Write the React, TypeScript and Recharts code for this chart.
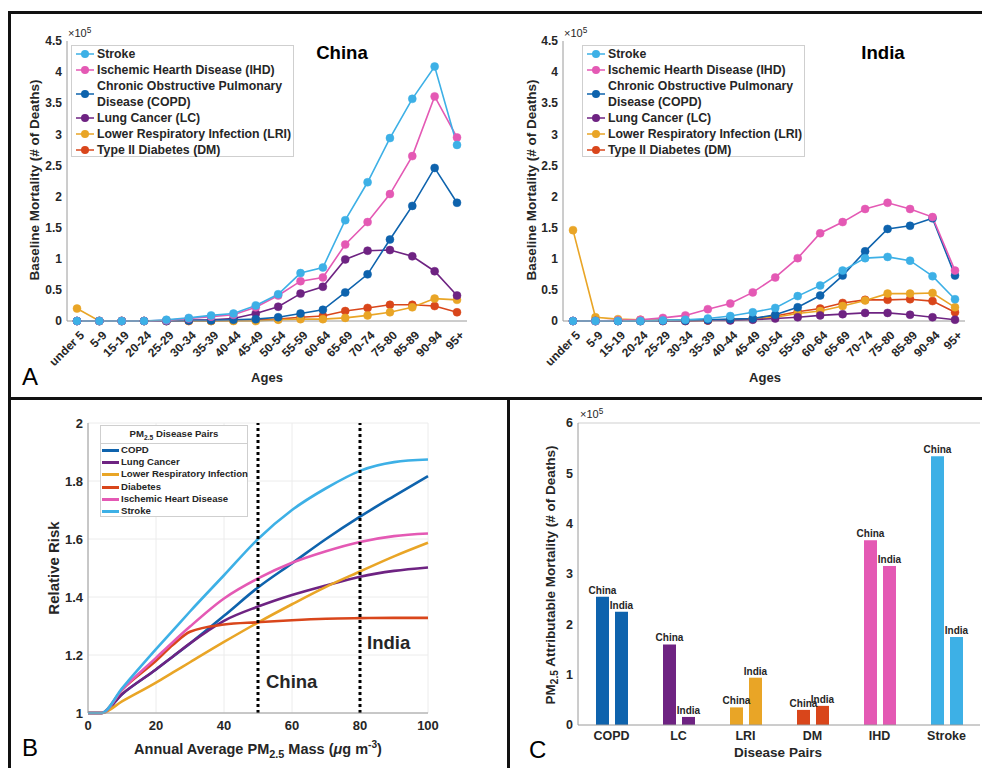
import React from "react";
import {
  LineChart,
  Line,
  XAxis,
  YAxis,
  CartesianGrid,
  ReferenceLine,
  BarChart,
  Bar,
  Cell,
} from "recharts";

const FONT = "'Liberation Sans', Arial, Helvetica, sans-serif";
const INK = "#262626";
const AXIS = "#9a9a9a";

// disease colours
const colStroke = "#3DB0E6";
const colIHD = "#E459B4";
const colCOPD = "#0E63AD";
const colLC = "#6E2382";
const colLRI = "#E9A526";
const colDM = "#D9461B";

// ---- panel A: baseline mortality by age (x10^5 deaths)
const ageGroups = [
  "under 5", "5-9", "15-19", "20-24", "25-29", "30-34", "35-39", "40-44", "45-49",
  "50-54", "55-59", "60-64", "65-69", "70-74", "75-80", "85-89", "90-94", "95+",
];
const mortalityTicks = [0, 0.5, 1, 1.5, 2, 2.5, 3, 3.5, 4, 4.5];

const chinaStroke = [0, 0, 0, 0, 0.02, 0.05, 0.09, 0.12, 0.25, 0.43, 0.77, 0.86, 1.62, 2.23, 2.94, 3.57, 4.09, 2.83];
const chinaIHD = [0, 0, 0, 0, 0.01, 0.04, 0.07, 0.1, 0.22, 0.41, 0.64, 0.7, 1.23, 1.59, 2.04, 2.65, 3.61, 2.95];
const chinaCOPD = [0, 0, 0, 0, 0, 0.01, 0.01, 0.02, 0.03, 0.06, 0.12, 0.18, 0.46, 0.75, 1.31, 1.85, 2.46, 1.9];
const chinaLC = [0, 0, 0, 0, 0, 0.01, 0.02, 0.04, 0.12, 0.23, 0.44, 0.55, 0.99, 1.13, 1.14, 1.04, 0.8, 0.41];
const chinaLRI = [0.2, 0, 0, 0, 0, 0, 0, 0, 0, 0.02, 0.03, 0.03, 0.05, 0.09, 0.14, 0.22, 0.36, 0.34];
const chinaDM = [0, 0, 0, 0, 0, 0, 0, 0.01, 0.02, 0.03, 0.06, 0.08, 0.16, 0.21, 0.26, 0.26, 0.24, 0.14];

const indiaStroke = [0, 0, 0, 0, 0.01, 0.02, 0.04, 0.08, 0.14, 0.21, 0.4, 0.57, 0.81, 1.01, 1.03, 0.97, 0.72, 0.35];
const indiaIHD = [0, 0, 0.01, 0.02, 0.05, 0.09, 0.19, 0.28, 0.46, 0.7, 1.01, 1.41, 1.59, 1.8, 1.9, 1.8, 1.67, 0.81];
const indiaCOPD = [0, 0, 0, 0, 0.01, 0.01, 0.02, 0.03, 0.04, 0.1, 0.22, 0.41, 0.73, 1.12, 1.48, 1.53, 1.65, 0.73];
const indiaLC = [0, 0, 0, 0, 0, 0, 0.01, 0.01, 0.02, 0.04, 0.06, 0.09, 0.11, 0.13, 0.13, 0.1, 0.06, 0.02];
const indiaLRI = [1.46, 0.06, 0.03, 0.02, 0.01, 0.01, 0.01, 0.02, 0.03, 0.06, 0.12, 0.16, 0.24, 0.33, 0.44, 0.44, 0.45, 0.22];
const indiaDM = [0, 0, 0, 0, 0, 0, 0.01, 0.02, 0.04, 0.08, 0.15, 0.2, 0.29, 0.34, 0.34, 0.35, 0.32, 0.14];

// ---- panel B: relative risk curves
const pmMass = [0, 4, 10, 20, 25, 30, 40, 50, 60, 70, 80, 90, 100];
const rrStroke = [1, 1, 1.085, 1.22, 1.285, 1.35, 1.475, 1.6, 1.7, 1.775, 1.835, 1.865, 1.874];
const rrCOPD = [1, 1, 1.065, 1.15, 1.195, 1.24, 1.335, 1.433, 1.516, 1.6, 1.677, 1.748, 1.817];
const rrLC = [1, 1, 1.065, 1.15, 1.195, 1.24, 1.318, 1.367, 1.407, 1.44, 1.47, 1.49, 1.502];
const rrLRI = [1, 1, 1.04, 1.105, 1.14, 1.175, 1.245, 1.312, 1.375, 1.435, 1.488, 1.54, 1.587];
const rrDM = [1, 1, 1.08, 1.18, 1.235, 1.28, 1.305, 1.313, 1.32, 1.325, 1.327, 1.328, 1.328];
const rrIHD = [1, 1, 1.08, 1.19, 1.245, 1.298, 1.395, 1.464, 1.518, 1.558, 1.59, 1.61, 1.619];
const pmTicks = [0, 20, 40, 60, 80, 100];
const rrTicks = [1, 1.2, 1.4, 1.6, 1.8, 2];
const chinaPM = 50;
const indiaPM = 80;

// ---- panel C: attributable mortality (x10^5 deaths)
const diseasePairs = ["COPD", "LC", "LRI", "DM", "IHD", "Stroke"];
const pairColors = [colCOPD, colLC, colLRI, colDM, colIHD, colStroke];
const chinaAttrib = [2.55, 1.6, 0.35, 0.3, 3.67, 5.34];
const indiaAttrib = [2.25, 0.16, 0.94, 0.38, 3.16, 1.75];
const attribTicks = [0, 1, 2, 3, 4, 5, 6];

const ageKeys = [
  { key: "stroke", name: "Stroke", color: colStroke },
  { key: "ihd", name: "Ischemic Hearth Disease (IHD)", color: colIHD },
  { key: "copd", name: "Chronic Obstructive Pulmonary Disease (COPD)", color: colCOPD },
  { key: "lc", name: "Lung Cancer (LC)", color: colLC },
  { key: "lri", name: "Lower Respiratory Infection (LRI)", color: colLRI },
  { key: "dm", name: "Type II Diabetes (DM)", color: colDM },
];

const chinaRows = ageGroups.map((age, i) => ({
  age,
  stroke: chinaStroke[i],
  ihd: chinaIHD[i],
  copd: chinaCOPD[i],
  lc: chinaLC[i],
  lri: chinaLRI[i],
  dm: chinaDM[i],
}));
const indiaRows = ageGroups.map((age, i) => ({
  age,
  stroke: indiaStroke[i],
  ihd: indiaIHD[i],
  copd: indiaCOPD[i],
  lc: indiaLC[i],
  lri: indiaLRI[i],
  dm: indiaDM[i],
}));
const rrRows = pmMass.map((pm, i) => ({
  pm,
  copd: rrCOPD[i],
  lc: rrLC[i],
  lri: rrLRI[i],
  dm: rrDM[i],
  ihd: rrIHD[i],
  stroke: rrStroke[i],
}));
const rrKeys = [
  { key: "copd", name: "COPD", color: colCOPD },
  { key: "lc", name: "Lung Cancer", color: colLC },
  { key: "lri", name: "Lower Respiratory Infection", color: colLRI },
  { key: "dm", name: "Diabetes", color: colDM },
  { key: "ihd", name: "Ischemic Heart Disease", color: colIHD },
  { key: "stroke", name: "Stroke", color: colStroke },
];
const attribRows = diseasePairs.map((disease, i) => ({
  disease,
  china: chinaAttrib[i],
  india: indiaAttrib[i],
}));

function Note({ x, y, size = 12, weight = "bold", rotate = 0, anchor = "center", color = INK, children }: any) {
  const tx = anchor === "center" ? "-50%" : anchor === "end" ? "-100%" : "0";
  return (
    <div
      style={{
        position: "absolute",
        left: x,
        top: y,
        transform: `translate(${tx}, -50%) rotate(${rotate}deg)`,
        fontSize: size,
        fontWeight: weight,
        whiteSpace: "nowrap",
        fontFamily: FONT,
        color,
        lineHeight: 1,
      }}
    >
      {children}
    </div>
  );
}

function Rule({ x, y, w, h }: any) {
  return <div style={{ position: "absolute", left: x, top: y, width: w, height: h, background: "#111" }} />;
}

function AgeTick({ x, y, payload }: any) {
  return (
    <text
      x={0}
      y={0}
      transform={`translate(${x + 8},${y + 15}) rotate(-45)`}
      textAnchor="end"
      fontSize={12}
      fontWeight="bold"
      fill={INK}
      fontFamily={FONT}
    >
      {payload.value}
    </text>
  );
}

function AgeLegend({ x, y }: any) {
  return (
    <div
      style={{
        position: "absolute",
        left: x,
        top: y,
        width: 223,
        height: 112,
        border: "1px solid #cfcfcf",
        background: "#fff",
        fontFamily: FONT,
        fontWeight: "bold",
        fontSize: 12.3,
        color: INK,
        boxSizing: "border-box",
      }}
    >
      {ageKeys.map((k) => {
        const tall = k.key === "copd";
        const h = tall ? 32 : 16;
        return (
          <div key={k.key} style={{ position: "relative", height: h }}>
            <svg width={24} height={h} style={{ position: "absolute", left: 0, top: 0 }}>
              <line x1={4} x2={22} y1={h / 2} y2={h / 2} stroke={k.color} strokeWidth={1.5} />
              <circle cx={13} cy={h / 2} r={4} fill={k.color} />
            </svg>
            <div style={{ position: "absolute", left: 25, top: 0, lineHeight: "16px", whiteSpace: "nowrap" }}>
              {tall ? (
                <>
                  Chronic Obstructive Pulmonary
                  <br />
                  Disease (COPD)
                </>
              ) : (
                k.name
              )}
            </div>
          </div>
        );
      })}
    </div>
  );
}

function AgeChart({ rows, left, width, marginLeft, marginRight }: any) {
  return (
    <div style={{ position: "absolute", left, top: 0 }}>
      <LineChart
        width={width}
        height={400}
        data={rows}
        margin={{ top: 41, right: marginRight, bottom: 19, left: marginLeft }}
      >
        <XAxis
          dataKey="age"
          interval={0}
          height={60}
          padding={{ left: 10, right: 10 }}
          axisLine={{ stroke: AXIS }}
          tickLine={false}
          tickSize={0}
          tickMargin={0}
          tick={<AgeTick />}
        />
        <YAxis
          width={30}
          domain={[0, 4.5]}
          ticks={mortalityTicks}
          axisLine={{ stroke: AXIS }}
          tickLine={false}
          tickSize={0}
          tickMargin={5}
          tick={{ fontSize: 12, fontWeight: "bold", fill: INK, fontFamily: FONT }}
        />
        {[...ageKeys].reverse().map((k) => (
          <Line
            key={k.key}
            type="linear"
            dataKey={k.key}
            stroke={k.color}
            strokeWidth={1.6}
            dot={{ r: 4, fill: k.color, stroke: k.color, strokeWidth: 0.5 }}
            isAnimationActive={false}
          />
        ))}
      </LineChart>
    </div>
  );
}

function RiskLegend() {
  return (
    <div
      style={{
        position: "absolute",
        left: 100,
        top: 425,
        width: 148,
        height: 92,
        border: "1px solid #cfcfcf",
        background: "#fff",
        fontFamily: FONT,
        fontWeight: "bold",
        fontSize: 9.6,
        color: INK,
        boxSizing: "border-box",
      }}
    >
      <div style={{ height: 18, borderBottom: "1px solid #cfcfcf", textAlign: "center", lineHeight: "15px", boxSizing: "border-box" }}>
        PM<sub style={{ fontSize: "0.7em" }}>2.5</sub> Disease Pairs
      </div>
      {rrKeys.map((k) => (
        <div key={k.key} style={{ position: "relative", height: 12.2 }}>
          <div style={{ position: "absolute", left: 1, top: 5, width: 17, height: 3, background: k.color }} />
          <div style={{ position: "absolute", left: 20, top: 0, lineHeight: "12.2px", whiteSpace: "nowrap" }}>{k.name}</div>
        </div>
      ))}
    </div>
  );
}

function BarTag({ x, y, width, text }: any) {
  return (
    <text x={x + width / 2} y={y - 3} textAnchor="middle" fontSize={10} fontWeight="bold" fill={INK} fontFamily={FONT}>
      {text}
    </text>
  );
}

export default function App() {
  return (
    <div style={{ position: "absolute", left: 0, top: 0, width: 982, height: 768, background: "#fff", overflow: "hidden" }}>
      {/* panel A */}
      <AgeChart rows={chinaRows} left={0} width={490} marginLeft={37} marginRight={23} />
      <AgeChart rows={indiaRows} left={490} width={492} marginLeft={43} marginRight={17} />
      <AgeLegend x={71} y={45} />
      <AgeLegend x={582} y={45} />
      <Note x={342} y={53} size={18.6} color="#000">China</Note>
      <Note x={883} y={53} size={18.6} color="#000">India</Note>
      <Note x={68} y={33} size={11} weight="normal" anchor="start">
        ×10<sup style={{ fontSize: "0.75em" }}>5</sup>
      </Note>
      <Note x={564} y={33} size={11} weight="normal" anchor="start">
        ×10<sup style={{ fontSize: "0.75em" }}>5</sup>
      </Note>
      <Note x={35} y={180} size={13.5} rotate={-90}>Baseline Mortality (# of Deaths)</Note>
      <Note x={532} y={180} size={13.5} rotate={-90}>Baseline Mortality (# of Deaths)</Note>
      <Note x={267} y={377} size={13}>Ages</Note>
      <Note x={765} y={377} size={13}>Ages</Note>
      <Note x={22} y={377} size={24} weight="normal" anchor="start" color="#000">A</Note>

      {/* panel B */}
      <div style={{ position: "absolute", left: 0, top: 399 }}>
        <LineChart width={505} height={369} data={rrRows} margin={{ top: 24, right: 77, bottom: 30, left: 58 }}>
          <CartesianGrid stroke="#ececec" />
          <XAxis
            dataKey="pm"
            type="number"
            domain={[0, 100]}
            ticks={pmTicks}
            height={25}
            axisLine={{ stroke: AXIS }}
            tickLine={false}
            tickSize={0}
            tickMargin={8}
            tick={{ fontSize: 13, fontWeight: "bold", fill: INK, fontFamily: FONT }}
          />
          <YAxis
            width={30}
            domain={[1, 2]}
            ticks={rrTicks}
            axisLine={{ stroke: AXIS }}
            tickLine={false}
            tickSize={0}
            tickMargin={5}
            tick={{ fontSize: 13, fontWeight: "bold", fill: INK, fontFamily: FONT }}
          />
          {rrKeys.map((k) => (
            <Line
              key={k.key}
              type="monotone"
              dataKey={k.key}
              stroke={k.color}
              strokeWidth={2.6}
              dot={false}
              isAnimationActive={false}
            />
          ))}
          <ReferenceLine x={chinaPM} stroke="#000" strokeWidth={3} strokeDasharray="3 3" />
          <ReferenceLine x={indiaPM} stroke="#000" strokeWidth={3} strokeDasharray="3 3" />
        </LineChart>
      </div>
      <RiskLegend />
      <Note x={266} y={682} size={18.5} anchor="start">China</Note>
      <Note x={367} y={643} size={18.5} anchor="start">India</Note>
      <Note x={53} y={568} size={15} rotate={-90}>Relative Risk</Note>
      <Note x={258} y={750} size={14.5}>
        Annual Average PM<sub style={{ fontSize: "0.75em" }}>2.5</sub> Mass (<i>μ</i>g m<sup style={{ fontSize: "0.7em" }}>-3</sup>)
      </Note>
      <Note x={22} y={748} size={24} weight="normal" anchor="start" color="#000">B</Note>

      {/* panel C */}
      <div style={{ position: "absolute", left: 509, top: 399 }}>
        <BarChart
          width={473}
          height={369}
          data={attribRows}
          margin={{ top: 24, right: 2, bottom: 18, left: 39 }}
          barGap={6}
        >
          <XAxis
            dataKey="disease"
            height={25}
            axisLine={{ stroke: AXIS }}
            tickLine={false}
            tickSize={0}
            tickMargin={6}
            tick={{ fontSize: 12.5, fontWeight: "bold", fill: INK, fontFamily: FONT }}
          />
          <YAxis
            width={30}
            domain={[0, 6]}
            ticks={attribTicks}
            axisLine={{ stroke: AXIS }}
            tickLine={false}
            tickSize={0}
            tickMargin={5}
            tick={{ fontSize: 12.5, fontWeight: "bold", fill: INK, fontFamily: FONT }}
          />
          <YAxis yAxisId="right" orientation="right" width={0} domain={[0, 6]} tick={false} tickLine={false} axisLine={{ stroke: "#cfcfcf" }} />
          <ReferenceLine y={6} stroke="#cfcfcf" />
          <Bar
            dataKey="china"
            barSize={13}
            isAnimationActive={false}
            label={(p: any) => <BarTag {...p} text="China" />}
          >
            {attribRows.map((r, i) => (
              <Cell key={r.disease} fill={pairColors[i]} />
            ))}
          </Bar>
          <Bar
            dataKey="india"
            barSize={13}
            isAnimationActive={false}
            label={(p: any) => <BarTag {...p} text="India" />}
          >
            {attribRows.map((r, i) => (
              <Cell key={r.disease} fill={pairColors[i]} />
            ))}
          </Bar>
        </BarChart>
      </div>
      <Note x={580} y={414} size={11} weight="normal" anchor="start">
        ×10<sup style={{ fontSize: "0.75em" }}>5</sup>
      </Note>
      <Note x={552} y={575} size={13.5} rotate={-90}>
        PM<sub style={{ fontSize: "0.75em" }}>2.5</sub> Attributable Mortality (# of Deaths)
      </Note>
      <Note x={778} y={753} size={13.5}>Disease Pairs</Note>
      <Note x={529} y={750} size={24} weight="normal" anchor="start" color="#000">C</Note>

      {/* panel frame */}
      <Rule x={8} y={11} w={974} h={3} />
      <Rule x={8} y={11} w={3} h={757} />
      <Rule x={8} y={397} w={974} h={3} />
      <Rule x={507} y={397} w={3} h={371} />
    </div>
  );
}
